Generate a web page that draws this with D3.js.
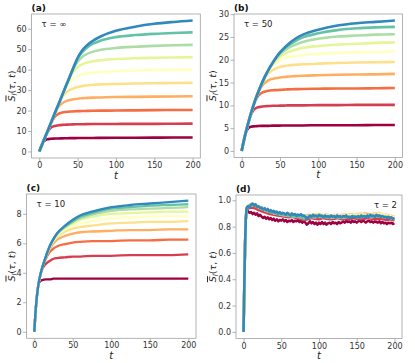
<!DOCTYPE html>
<html><head><meta charset="utf-8">
<script src="https://cdn.jsdelivr.net/npm/d3@7"></script>
<style>
body{margin:0;background:#fff;}
text{font-family:"DejaVu Sans",sans-serif;}
</style></head>
<body><svg id="c" width="415" height="363"></svg>
<script>
// ---------- DATA ----------
const colors = ["#9e0142","#d53e4f","#f46d43","#fdae61","#fee08b","#ffffbf","#e6f598","#abdda4","#66c2a5","#3288bd"];
const xTicks = [0,50,100,150,200];

// Panel (a) tau = infinity
const tA = [0,5,10,15,20,25,30,35,40,45,50,55,60,70,80,100,125,150,175,200];
const a0 = [0,4.5,5.9,6.2,6.3,6.35,6.4,6.45,6.5,6.5,6.55,6.55,6.6,6.6,6.65,6.7,6.7,6.75,6.8,6.8];
const a1 = [0,4.6,9.0,11.6,12.4,12.8,13.0,13.1,13.2,13.25,13.3,13.3,13.35,13.4,13.4,13.45,13.5,13.5,13.55,13.6];
const a2 = [0,4.6,9.2,13.6,16.9,18.4,19.0,19.3,19.5,19.6,19.7,19.75,19.8,19.9,19.95,20.0,20.1,20.2,20.25,20.3];
const a3 = [0,4.6,9.2,13.8,18.3,21.8,23.6,24.6,25.2,25.5,25.8,26.0,26.1,26.3,26.4,26.6,26.7,26.8,26.9,27.0];
const a4 = [0,4.6,9.2,13.8,18.4,22.9,26.6,28.8,30.1,30.9,31.5,31.9,32.2,32.6,32.8,33.0,33.2,33.35,33.5,33.6];
const a5 = [0,4.6,9.2,13.8,18.4,23.0,27.5,31.4,34.0,35.6,36.7,37.4,37.9,38.5,38.9,39.3,39.6,39.8,39.9,40.0];
const a6 = [0,4.6,9.2,13.8,18.4,23.0,27.6,32.1,36.2,39.2,41.1,42.4,43.2,44.1,44.6,45.2,45.6,45.8,45.95,46.1];
const a7 = [0,4.6,9.2,13.8,18.4,23.0,27.6,32.2,36.7,40.9,43.9,45.9,47.2,48.8,49.7,50.6,51.2,51.6,51.9,52.1];
const a8 = [0,4.6,9.2,13.8,18.4,23.0,27.6,32.2,36.8,41.3,45.3,48.1,50.1,52.7,54.2,55.9,56.9,57.5,57.9,58.2];
const a9 = [0,4.6,9.2,13.8,18.4,23.0,27.6,32.2,36.8,41.4,45.8,48.9,51.1,54.1,56.2,59.0,61.0,62.4,63.3,64.0];
const yTicksA = [0,10,20,30,40,50,60];

// Panel (b) tau = 50
const tB = [0,5,10,15,20,25,30,35,40,45,50,55,60,70,80,100,125,150,175,200];
const b0 = [0,3.8,5.2,5.4,5.45,5.5,5.5,5.5,5.55,5.55,5.55,5.6,5.6,5.6,5.6,5.65,5.65,5.65,5.7,5.7];
const b1 = [0,3.8,7.0,8.9,9.5,9.7,9.8,9.85,9.9,9.9,9.95,9.95,10.0,10.0,10.0,10.05,10.05,10.1,10.1,10.1];
const b2 = [0,3.8,7.0,9.8,11.7,12.6,13.0,13.2,13.3,13.35,13.4,13.45,13.5,13.55,13.6,13.65,13.7,13.7,13.75,13.8];
const b3 = [0,3.8,7.0,9.8,12.2,13.9,14.9,15.5,15.8,16.0,16.1,16.2,16.3,16.4,16.5,16.6,16.7,16.75,16.8,16.9];
const b4 = [0,3.8,7.0,9.8,12.2,14.3,15.9,17.0,17.7,18.1,18.4,18.6,18.75,18.9,19.0,19.15,19.3,19.4,19.45,19.5];
const b5 = [0,3.8,7.0,9.8,12.2,14.3,16.2,17.6,18.6,19.3,19.8,20.2,20.5,20.8,21.0,21.3,21.5,21.6,21.7,21.8];
const b6 = [0,3.8,7.0,9.8,12.2,14.3,16.2,17.8,19.0,19.9,20.6,21.2,21.6,22.2,22.6,23.0,23.3,23.5,23.7,23.8];
const b7 = [0,3.8,7.0,9.8,12.2,14.3,16.2,17.8,19.2,20.3,21.2,21.9,22.5,23.3,23.9,24.6,25.1,25.3,25.5,25.6];
const b8 = [0,3.8,7.0,9.8,12.2,14.3,16.2,17.8,19.2,20.5,21.5,22.3,23.0,24.1,24.9,25.8,26.5,26.9,27.1,27.2];
const b9 = [0,3.8,7.0,9.8,12.2,14.3,16.2,17.8,19.2,20.5,21.6,22.5,23.3,24.6,25.5,26.6,27.5,28.0,28.3,28.6];
const yTicksB = [0,5,10,15,20,25,30];

// Panel (c) tau = 10
const tC = [0,2,4,6,8,10,15,20,25,30,40,50,60,75,100,125,150,175,200];
const c0 = [0,1.6,2.7,3.3,3.45,3.5,3.55,3.55,3.6,3.6,3.6,3.6,3.6,3.6,3.6,3.6,3.6,3.6,3.6];
const c1 = [0,1.6,2.7,3.4,3.85,4.2,4.6,4.8,4.95,5.0,5.05,5.1,5.1,5.15,5.15,5.2,5.2,5.2,5.25];
const c2 = [0,1.6,2.7,3.4,3.9,4.3,4.95,5.4,5.65,5.8,5.95,6.05,6.1,6.15,6.15,6.2,6.2,6.25,6.25];
const c3 = [0,1.6,2.7,3.4,3.9,4.3,5.05,5.6,6.0,6.25,6.5,6.65,6.75,6.8,6.85,6.9,6.9,6.95,6.95];
const c4 = [0,1.6,2.7,3.4,3.9,4.3,5.1,5.7,6.15,6.45,6.8,7.0,7.1,7.2,7.35,7.4,7.45,7.45,7.5];
const c5 = [0,1.6,2.7,3.4,3.9,4.3,5.1,5.75,6.2,6.55,6.95,7.2,7.35,7.5,7.7,7.75,7.8,7.85,7.85];
const c6 = [0,1.6,2.7,3.4,3.9,4.3,5.1,5.8,6.25,6.6,7.05,7.35,7.6,7.8,8.0,8.05,8.1,8.15,8.15];
const c7 = [0,1.6,2.7,3.4,3.9,4.3,5.1,5.8,6.3,6.65,7.1,7.45,7.7,7.95,8.2,8.3,8.35,8.4,8.45];
const c8 = [0,1.6,2.7,3.4,3.9,4.3,5.1,5.8,6.3,6.7,7.15,7.5,7.8,8.05,8.35,8.45,8.55,8.6,8.65];
const c9 = [0,1.6,2.7,3.4,3.9,4.3,5.1,5.8,6.3,6.7,7.2,7.6,7.9,8.15,8.45,8.6,8.7,8.8,8.9];
const yTicksC = [0,2,4,6,8];

// Panel (d) tau = 2
const tDfine = [0,1,2,3,4,5].concat(d3.range(6,201,2));
const tDcoarse = [0,1,2,3,4,5].concat(d3.range(10,201,5));
const d0 = [0,0.35,0.66,0.85,0.91,0.92,
 .915,.905,.91,.895,.905,.89,.9,.88,.89,.875,.865,.875,.86,.87,.855,.865,.85,.86,.845,.855,.84,.85,.845,.855,.84,.85,.835,.845,.84,.85,.835,.845,.84,.85,.835,.845,.83,.84,.83,.815,.825,.84,.825,.835,.82,.83,.815,.83,.82,.835,.82,.83,.815,.825,.83,.82,.835,.825,.83,.82,.835,.825,.83,.84,.83,.845,.835,.84,.83,.845,.835,.84,.83,.84,.845,.835,.845,.84,.83,.84,.845,.835,.84,.83,.84,.835,.83,.84,.825,.835,.825,.83,.82,.83,.825,.83,.82,.825];
const d1 = [0,.35,.66,.86,.92,.935,.945,.94,.925,.915,.905,.895,.89,.885,.88,.875,.87,.875,.865,.86,.85,.855,.865,.86,.855,.865,.86,.855,.86,.865,.855,.86,.855,.865,.86,.855,.86,.865,.86,.855,.86,.855,.85,.855,.845];
const d2 = [0,.35,.66,.86,.93,.945,.96,.955,.94,.93,.915,.91,.905,.895,.89,.885,.89,.88,.885,.875,.87,.865,.88,.875,.87,.88,.875,.87,.875,.88,.87,.875,.87,.88,.875,.87,.875,.88,.885,.875,.88,.87,.875,.865,.86];
const d3v = [0,.35,.66,.86,.935,.95,.97,.965,.95,.94,.93,.92,.915,.905,.9,.895,.9,.89,.895,.885,.875,.89,.885,.89,.895,.885,.89,.88,.885,.89,.88,.885,.89,.895,.885,.89,.9,.895,.89,.9,.895,.885,.89,.88,.875];
const d4 = [0,.35,.66,.86,.935,.955,.975,.97,.955,.945,.935,.925,.915,.91,.905,.9,.895,.895,.89,.885,.88,.875,.89,.895,.89,.885,.895,.885,.89,.885,.89,.895,.885,.89,.895,.9,.89,.885,.895,.9,.905,.89,.885,.885,.87];
const d5 = [0,.35,.66,.86,.935,.95,.965,.975,.955,.94,.93,.92,.91,.905,.9,.895,.89,.89,.885,.88,.87,.88,.885,.88,.89,.88,.885,.875,.88,.885,.875,.88,.885,.89,.88,.885,.89,.885,.88,.89,.895,.88,.885,.875,.865];
const d6 = [0,.35,.66,.86,.935,.95,.96,.97,.95,.935,.925,.915,.905,.9,.895,.89,.885,.885,.88,.875,.865,.875,.88,.875,.885,.875,.88,.87,.875,.88,.87,.875,.88,.885,.875,.88,.885,.88,.875,.885,.89,.875,.88,.87,.86];
const d7 = [0,.35,.66,.86,.935,.95,.965,.965,.945,.935,.92,.915,.9,.9,.89,.885,.88,.88,.875,.87,.865,.87,.875,.87,.88,.87,.875,.865,.87,.875,.865,.87,.875,.88,.87,.875,.88,.875,.87,.88,.885,.87,.875,.865,.86];
const d8 = [0,.35,.66,.86,.935,.95,.97,.96,.95,.93,.925,.91,.905,.895,.895,.885,.885,.875,.88,.87,.86,.875,.87,.875,.88,.875,.87,.87,.875,.87,.87,.875,.87,.88,.875,.87,.875,.88,.875,.875,.88,.875,.87,.87,.855];
const d9 = [0,0.35,0.66,0.86,0.94,0.95,
 .955,.945,.965,.975,.96,.97,.95,.955,.94,.945,.93,.94,.925,.935,.915,.925,.91,.92,.905,.915,.9,.91,.895,.905,.9,.89,.905,.895,.885,.9,.89,.895,.88,.89,.885,.895,.88,.885,.875,.86,.87,.885,.875,.89,.88,.885,.875,.89,.88,.885,.87,.885,.875,.88,.87,.885,.875,.88,.87,.885,.875,.88,.87,.88,.875,.885,.87,.875,.865,.88,.87,.875,.87,.88,.87,.885,.875,.88,.87,.885,.875,.89,.88,.885,.875,.89,.88,.885,.875,.88,.87,.875,.865,.875,.865,.87,.86,.865];
const yTicksD = [0,0.2,0.4,0.6,0.8,1.0];

// ---------- DRAW ----------
const svg = d3.select("#c");
const panels = [
  {lab:"(a)", tau:"τ = ∞", tauRight:false, x:[31.6,200.3], y:[158,14], yd:[-3.2,67.2], yt:yTicksA, fmt:d3.format("d"),
   series:[a0,a1,a2,a3,a4,a5,a6,a7,a8,a9].map(v=>({t:tA,v})), curve:d3.curveMonotoneX, lw:2.6, ylb:14.5},
  {lab:"(b)", tau:"τ = 50", tauRight:false, x:[234,402.5], y:[157.5,14], yd:[-1.43,30.03], yt:yTicksB, fmt:d3.format("d"),
   series:[b0,b1,b2,b3,b4,b5,b6,b7,b8,b9].map(v=>({t:tB,v})), curve:d3.curveMonotoneX, lw:2.6, ylb:215.5},
  {lab:"(c)", tau:"τ = 10", tauRight:false, x:[26.6,196], y:[338.3,194], yd:[-0.445,9.345], yt:yTicksC, fmt:d3.format("d"),
   series:[c0,c1,c2,c3,c4,c5,c6,c7,c8,c9].map(v=>({t:tC,v})), curve:d3.curveMonotoneX, lw:2.3, ylb:14.5},
  {lab:"(d)", tau:"τ = 2", tauRight:true, x:[236,402], y:[338.5,195], yd:[-0.05,1.04], yt:yTicksD, fmt:d3.format(".1f"),
   series:[{t:tDfine,v:d0}].concat([d1,d2,d3v,d4,d5,d6,d7,d8].map(v=>({t:tDcoarse,v}))).concat([{t:tDfine,v:d9}]), curve:d3.curveLinear, lw:2.5, ylb:216}
];

const frameCol = "#a0a0a0";
panels.forEach(p=>{
  const x = d3.scaleLinear().domain([-10,210]).range(p.x);
  const y = d3.scaleLinear().domain(p.yd).range(p.y);
  const g = svg.append("g");
  const line = d3.line().x(d=>x(d[0])).y(d=>y(d[1])).curve(p.curve);
  p.series.forEach((s,i)=>{
    g.append("path").attr("d", line(s.t.map((t,j)=>[t,s.v[j]])))
      .attr("fill","none").attr("stroke",colors[i]).attr("stroke-width",p.lw)
      .attr("stroke-linejoin","round").attr("stroke-linecap","butt");
  });
  // axes
  const xa = d3.axisBottom(x).tickValues(xTicks).tickSize(3.5).tickPadding(1).tickFormat(d3.format("d"));
  const ya = d3.axisLeft(y).tickValues(p.yt).tickSize(3.5).tickPadding(1.5).tickFormat(p.fmt);
  const gx = svg.append("g").attr("transform",`translate(0,${p.y[0]})`).call(xa);
  const gy = svg.append("g").attr("transform",`translate(${p.x[0]},0)`).call(ya);
  [gx,gy].forEach(ax=>{
    ax.select(".domain").remove();
    ax.selectAll("line").attr("stroke",frameCol).attr("stroke-width",0.8);
    ax.selectAll("text").attr("fill","#333").style("font-size","8px").style("font-family","DejaVu Sans");
  });
  // frame
  svg.append("rect").attr("x",p.x[0]).attr("y",p.y[1]).attr("width",p.x[1]-p.x[0]).attr("height",p.y[0]-p.y[1])
    .attr("fill","none").attr("stroke",frameCol).attr("stroke-width",0.8);
  // panel label
  svg.append("text").attr("x",p.x[0]).attr("y",p.y[1]-3).text(p.lab)
    .style("font-size","9px").style("font-weight","bold").attr("fill","#111");
  // tau text
  svg.append("text").attr("x", p.tauRight ? p.x[1]-5 : p.x[0]+10).attr("y",p.y[1]+13)
    .attr("text-anchor", p.tauRight ? "end":"start").text(p.tau)
    .style("font-size","8.5px").attr("fill","#222");
  // x label
  svg.append("text").attr("x",(p.x[0]+p.x[1])/2).attr("y",p.y[0]+20.5).attr("text-anchor","middle")
    .style("font-size","10px").style("font-style","italic").attr("fill","#222").text("t");
  // y label
  const cy = (p.y[0]+p.y[1])/2;
  const yl = svg.append("text").attr("transform",`translate(${p.ylb},${cy}) rotate(-90)`)
    .attr("text-anchor","middle").style("font-size","9.5px").attr("fill","#222");
  yl.append("tspan").style("font-style","italic").style("text-decoration","overline").text("S");
  yl.append("tspan").style("font-style","italic").style("font-size","7px").attr("dy","2").text("l");
  yl.append("tspan").attr("dy","-2").text("(");
  yl.append("tspan").style("font-style","italic").text("τ");
  yl.append("tspan").text(", ");
  yl.append("tspan").style("font-style","italic").text("t");
  yl.append("tspan").text(")");
});
</script></body></html>
